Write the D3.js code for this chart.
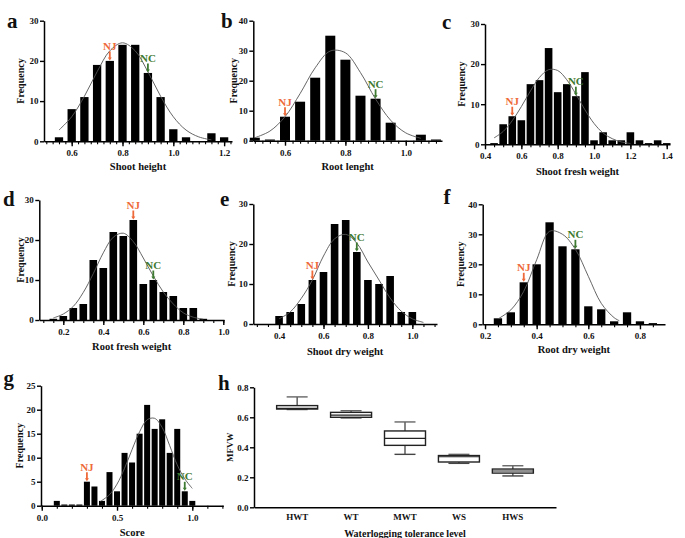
<!DOCTYPE html>
<html><head><meta charset="utf-8">
<script src="https://cdn.jsdelivr.net/npm/d3@7"></script>
<style>
body{margin:0;background:#fff}
svg{display:block}
text{font-family:"Liberation Serif","Times New Roman",serif;font-weight:bold;fill:#111}
</style>
</head><body>
<svg id="chart" width="685" height="538"></svg>
<script>
// ---------------- DATA ----------------
// a: Shoot height
const aBins   = [0.55,0.6,0.65,0.7,0.75,0.8,0.85,0.9,0.95,1.0,1.05,1.15,1.2];
const aCounts = [1,8,11,19,20,24,24,17,11,3,1,2,1];
const aCurveX = [0.55,0.6,0.65,0.7,0.75,0.8,0.85,0.9,0.95,1.0,1.05,1.1,1.15];
const aCurveY = [2.8,6.1,11.2,17.3,22.5,24.5,22.5,17.3,11.2,6.1,2.8,1.1,0.35];
const aTicks  = [0.6,0.8,1.0,1.2];
const aNJ = 0.75, aNC = 0.9;

// b: Root lenght
const bBins   = [0.5,0.55,0.6,0.65,0.7,0.75,0.8,0.85,0.9,0.95,1.05,1.1];
const bCounts = [1,0,8,13,21,35,27,15,14,6,2,0];
const bCurveX = [0.5,0.55,0.6,0.65,0.7,0.75,0.8,0.85,0.9,0.95,1.0,1.05];
const bCurveY = [1.0,3.2,8.0,15.7,24.3,29.9,29.3,22.7,13.9,6.8,2.6,0.8];
const bTicks  = [0.6,0.8,1.0];
const bNJ = 0.6, bNC = 0.9;

// c: Shoot fresh weight
const cBins   = [0.45,0.5,0.55,0.6,0.65,0.7,0.75,0.8,0.85,0.9,0.95,1.0,1.05,1.1,1.15,1.2,1.25,1.3,1.35,1.4];
const cCounts = [0,5,7,6,15,16,24,13,15,12,18,1,3,1,1,3,1,0,1,0];
const cCurveX = [0.45,0.5,0.55,0.6,0.65,0.7,0.75,0.8,0.85,0.9,0.95,1.0,1.05,1.1,1.15,1.2];
const cCurveY = [1.6,3.2,5.9,9.4,13.3,16.7,18.6,18.4,16.1,12.5,8.6,5.2,2.8,1.4,0.6,0.2];
const cTicks  = [0.4,0.6,0.8,1.0,1.2,1.4];
const cNJ = 0.55, cNC = 0.9;

// d: Root fresh weight
const dBins   = [0.15,0.2,0.25,0.3,0.35,0.4,0.45,0.5,0.55,0.6,0.65,0.7,0.75,0.8,0.85,0.9];
const dCounts = [0,1,3,4,15,13,22,21,25,9,10,7,6,3,3,0];
const dCurveX = [0.15,0.2,0.25,0.3,0.35,0.4,0.45,0.5,0.55,0.6,0.65,0.7,0.75,0.8,0.85,0.9];
const dCurveY = [0.5,1.5,3.4,6.9,11.6,16.8,20.7,21.7,19.6,15.5,11.0,7.0,4.0,1.8,0.7,0.2];
const dTicks  = [0.2,0.4,0.6,0.8,1.0];
const dNJ = 0.55, dNC = 0.65;

// e: Shoot dry weight
const eBins   = [0.4,0.45,0.5,0.55,0.6,0.65,0.7,0.75,0.8,0.85,0.9,0.95,1.0];
const eCounts = [2,3,5,11,13,25,26,18,11,10,12,3,3];
const eCurveX = [0.4,0.45,0.5,0.55,0.6,0.65,0.7,0.75,0.8,0.85,0.9,0.95,1.0,1.05];
const eCurveY = [1.3,3.0,6.4,11.0,17.0,21.3,22.4,20.2,15.5,11.0,6.5,3.2,1.3,0.4];
const eTicks  = [0.4,0.6,0.8,1.0];
const eNJ = 0.55, eNC = 0.75;

// f: Root dry weight
const fBins   = [0.25,0.3,0.35,0.4,0.45,0.5,0.55,0.6,0.65,0.7,0.75,0.8,0.85];
const fCounts = [2,4,14,20,34,26,25,6,5,1,4,1,0];
const fCurveX = [0.25,0.3,0.35,0.4,0.45,0.5,0.55,0.6,0.65,0.7,0.72];
const fCurveY = [1.8,4.8,11.0,21.5,31.0,30.0,25.0,16.0,7.0,2.2,1.2];
const fTicks  = [0.2,0.4,0.6,0.8];
const fNJ = 0.35, fNC = 0.55;

// g: Score
const gBins   = [0.1,0.15,0.2,0.25,0.3,0.35,0.4,0.45,0.5,0.55,0.6,0.65,0.7,0.75,0.8,0.85,0.9,0.95,1.0];
const gCounts = [1,0,0,0,5,4,1,7,3,11,9,15,21,16,18,11,16,3,1];
const gCurveX = [0.39,0.45,0.5,0.55,0.6,0.65,0.7,0.75,0.8,0.85,0.9,0.95,1.0];
const gCurveY = [0.9,2.3,4.5,7.8,11.7,15.4,17.9,18.2,16.3,12.5,8.5,5.6,3.6];
const gTicks  = [0.0,0.5,1.0];
const gNJ = 0.3, gNC = 0.95;

// h: MFVW box plot
const hLevels = ["HWT","WT","MWT","WS","HWS"];
const hMin    = [0.652,0.596,0.353,0.293,0.209];
const hQ1     = [0.655,0.600,0.413,0.302,0.228];
const hMedian = [0.659,0.614,0.460,0.337,0.242];
const hQ3     = [0.678,0.633,0.509,0.345,0.255];
const hMax    = [0.736,0.644,0.569,0.353,0.277];
const hTicks  = [0.0,0.2,0.4,0.6,0.8];

// ---------------- DRAW ----------------
const svg = d3.select("#chart");
const NJ_COLOR = "#EE6A3A", NC_COLOR = "#3F7A32";
const fmt = d3.format(".1f");

const hists = [
  {L:"a", bins:aBins, counts:aCounts, cx:aCurveX, cy:aCurveY, ticks:aTicks, nj:aNJ, nc:aNC, title:"Shoot height",
   xr:[44,232], xd:[0.491,1.231], yr:[141.3,20.7], yd:[0,30], ys:10, minor:0.025, bw:8.3,
   letter:[7,27.5], ytx:20, xty:170},
  {L:"b", bins:bBins, counts:bCounts, cx:bCurveX, cy:bCurveY, ticks:bTicks, nj:bNJ, nc:bNC, title:"Root lenght",
   xr:[253.3,442], xd:[0.495,1.12], yr:[140.7,20.7], yd:[0,40], ys:10, minor:0.025, bw:10,
   letter:[221,27.5], ytx:233, xty:170},
  {L:"c", bins:cBins, counts:cCounts, cx:cCurveX, cy:cCurveY, ticks:cTicks, nj:cNJ, nc:cNC, title:"Shoot fresh weight",
   xr:[485,670], xd:[0.4,1.418], yr:[144.3,24], yd:[0,30], ys:10, minor:0.05, bw:7.6,
   letter:[442,29], ytx:461.5, xty:174.5},
  {L:"d", bins:dBins, counts:dCounts, cx:dCurveX, cy:dCurveY, ticks:dTicks, nj:dNJ, nc:dNC, title:"Root fresh weight",
   xr:[39.3,224], xd:[0.08,1.0035], yr:[320,200], yd:[0,30], ys:10, minor:0.05, bw:7.6,
   letter:[3,205.5], ytx:20, xty:350},
  {L:"e", bins:eBins, counts:eCounts, cx:eCurveX, cy:eCurveY, ticks:eTicks, nj:eNJ, nc:eNC, title:"Shoot dry weight",
   xr:[253.3,437], xd:[0.284,1.111], yr:[324,204], yd:[0,30], ys:10, minor:0.05, bw:7.6,
   letter:[220,205.5], ytx:231.5, xty:355},
  {L:"f", bins:fBins, counts:fCounts, cx:fCurveX, cy:fCurveY, ticks:fTicks, nj:fNJ, nc:fNC, title:"Root dry weight",
   xr:[482.7,665], xd:[0.191,0.897], yr:[324.3,204.3], yd:[0,40], ys:10, minor:0.05, bw:8.3,
   letter:[443.5,204], ytx:460, xty:353},
  {L:"g", bins:gBins, counts:gCounts, cx:gCurveX, cy:gCurveY, ticks:gTicks, nj:gNJ, nc:gNC, title:"Score",
   xr:[41,223.3], xd:[-0.005,1.206], yr:[505.7,385.7], yd:[0,25], ys:5, minor:0.1, bw:6,
   letter:[3.5,385], ytx:19.5, xty:536}
];

function arrowMark(g, x, top, label, color){
  g.append("text").attr("x", x).attr("y", top - 11)
    .attr("text-anchor","middle").attr("font-size", 11).style("fill", color).text(label);
  g.append("line").attr("x1", x).attr("x2", x).attr("y1", top - 9.5).attr("y2", top - 2.5)
    .attr("stroke", color).attr("stroke-width", 1.8);
  g.append("path").attr("d", `M${x-2},${top-3.5}L${x+2},${top-3.5}L${x},${top-0.5}Z`).attr("fill", color);
}

hists.forEach(p => {
  const g = svg.append("g");
  const x = d3.scaleLinear().domain(p.xd).range(p.xr);
  const y = d3.scaleLinear().domain(p.yd).range(p.yr);

  // bars
  g.selectAll("rect.bar").data(p.bins.map((b,i)=>({b, c:p.counts[i]}))).join("rect")
    .attr("class","bar")
    .attr("x", d => x(d.b) - p.bw/2)
    .attr("width", p.bw)
    .attr("y", d => Math.min(y(d.c), y(0) - 1.2))
    .attr("height", d => Math.max(y(0) - y(d.c), 1.2))
    .attr("fill", "#000");

  // fitted curve
  const line = d3.line().x(d=>x(d[0])).y(d=>y(d[1])).curve(d3.curveCatmullRom);
  g.append("path").datum(p.cx.map((v,i)=>[v,p.cy[i]]))
    .attr("d", line).attr("fill","none").attr("stroke","#555").attr("stroke-width",0.9);

  // x axis: minor ticks
  const minorVals = d3.range(Math.ceil(p.xd[0]/p.minor - 1e-6)*p.minor, p.xd[1]+1e-9, p.minor);
  const gxm = g.append("g").attr("transform", `translate(0,${y(0)})`)
    .call(d3.axisBottom(x).tickValues(minorVals).tickSize(3).tickSizeOuter(0).tickFormat(""));
  gxm.select(".domain").attr("stroke-width",1.5).attr("stroke","#000");
  gxm.selectAll(".tick line").attr("stroke-width",1.1).attr("stroke","#000");
  // x axis: major ticks
  const gx = g.append("g").attr("transform", `translate(0,${y(0)})`)
    .call(d3.axisBottom(x).tickValues(p.ticks).tickSize(5).tickSizeOuter(0).tickPadding(3.6).tickFormat(fmt));
  gx.select(".domain").remove();
  gx.selectAll(".tick line").attr("stroke-width",1.4).attr("stroke","#000");
  gx.selectAll("text").attr("font-size",9).style("font-family",'"Liberation Serif",serif').style("font-weight","bold");

  // y axis
  const gy = g.append("g").attr("transform", `translate(${p.xr[0]},0)`)
    .call(d3.axisLeft(y).tickValues(d3.range(p.yd[0], p.yd[1]+1e-9, p.ys)).tickSize(4).tickSizeOuter(0).tickPadding(1.5).tickFormat(d3.format("d")));
  gy.select(".domain").attr("stroke-width",1.5).attr("stroke","#000");
  gy.selectAll(".tick line").attr("stroke-width",1.4).attr("stroke","#000");
  gy.selectAll("text").attr("font-size",9).style("font-family",'"Liberation Serif",serif').style("font-weight","bold");

  // titles
  g.append("text").attr("x", (p.xr[0]+p.xr[1])/2).attr("y", p.xty)
    .attr("text-anchor","middle").attr("font-size",10.5).text(p.title);
  g.append("text").attr("transform", `translate(${p.ytx},${(p.yr[0]+p.yr[1])/2}) rotate(-90)`)
    .attr("dy","0.35em").attr("text-anchor","middle").attr("font-size",10).text("Frequency");
  g.append("text").attr("x", p.letter[0]).attr("y", p.letter[1]).attr("font-size",21).text(p.L);

  // NJ / NC markers
  const njTop = y(p.counts[p.bins.indexOf(p.nj)]);
  const ncTop = y(p.counts[p.bins.indexOf(p.nc)]);
  arrowMark(g, x(p.nj), njTop, "NJ", NJ_COLOR);
  arrowMark(g, x(p.nc), ncTop, "NC", NC_COLOR);
});

// ---------- panel h: box plot ----------
(function(){
  const g = svg.append("g");
  const x = d3.scaleBand().domain(hLevels).range([254,556]).paddingInner(0).paddingOuter(0.3);
  const y = d3.scaleLinear().domain([0,0.8]).range([507.3,387.3]);
  const bw = 41, cw = 21;
  const rows = hLevels.map((k,i)=>({k, mn:hMin[i], q1:hQ1[i], md:hMedian[i], q3:hQ3[i], mx:hMax[i]}));
  const bg = g.selectAll("g.box").data(rows).join("g").attr("class","box")
    .attr("transform", d => `translate(${x(d.k)+x.bandwidth()/2},0)`);
  // whiskers
  bg.append("line").attr("x1",0).attr("x2",0).attr("y1",d=>y(d.mx)).attr("y2",d=>y(d.q3)).attr("stroke","#444").attr("stroke-width",1.3);
  bg.append("line").attr("x1",0).attr("x2",0).attr("y1",d=>y(d.q1)).attr("y2",d=>y(d.mn)).attr("stroke","#444").attr("stroke-width",1.3);
  bg.append("line").attr("x1",-cw/2).attr("x2",cw/2).attr("y1",d=>y(d.mx)).attr("y2",d=>y(d.mx)).attr("stroke","#666").attr("stroke-width",1.4);
  bg.append("line").attr("x1",-cw/2).attr("x2",cw/2).attr("y1",d=>y(d.mn)).attr("y2",d=>y(d.mn)).attr("stroke","#444").attr("stroke-width",1.4);
  bg.append("rect").attr("x",-bw/2).attr("width",bw).attr("y",d=>y(d.q3)).attr("height",d=>y(d.q1)-y(d.q3))
    .attr("fill","#fff").attr("stroke","#222").attr("stroke-width",1.4);
  bg.append("line").attr("x1",-bw/2).attr("x2",bw/2).attr("y1",d=>y(d.md)).attr("y2",d=>y(d.md)).attr("stroke","#222").attr("stroke-width",1.2);

  const gx = g.append("g").attr("transform","translate(0,507.3)")
    .call(d3.axisBottom(x).tickSize(0).tickPadding(6.8));
  gx.select(".domain").attr("stroke-width",1.5).attr("stroke","#000");
  gx.selectAll("text").attr("font-size",9).style("font-family",'"Liberation Serif",serif').style("font-weight","bold");

  const gy = g.append("g").attr("transform","translate(254,0)")
    .call(d3.axisLeft(y).tickValues(hTicks).tickSize(4).tickSizeOuter(0).tickPadding(1.5).tickFormat(fmt));
  gy.select(".domain").attr("stroke-width",1.5).attr("stroke","#000");
  gy.selectAll(".tick line").attr("stroke-width",1.4).attr("stroke","#000");
  gy.selectAll("text").attr("font-size",9).style("font-family",'"Liberation Serif",serif').style("font-weight","bold");

  g.append("text").attr("x",405).attr("y",536.5).attr("text-anchor","middle").attr("font-size",10).text("Waterlogging tolerance level");
  g.append("text").attr("transform","translate(229.5,447.3) rotate(-90)").attr("dy","0.35em")
    .attr("text-anchor","middle").attr("font-size",9).text("MFVW");
  g.append("text").attr("x",218).attr("y",390).attr("font-size",21).text("h");
})();
</script>
</body></html>
